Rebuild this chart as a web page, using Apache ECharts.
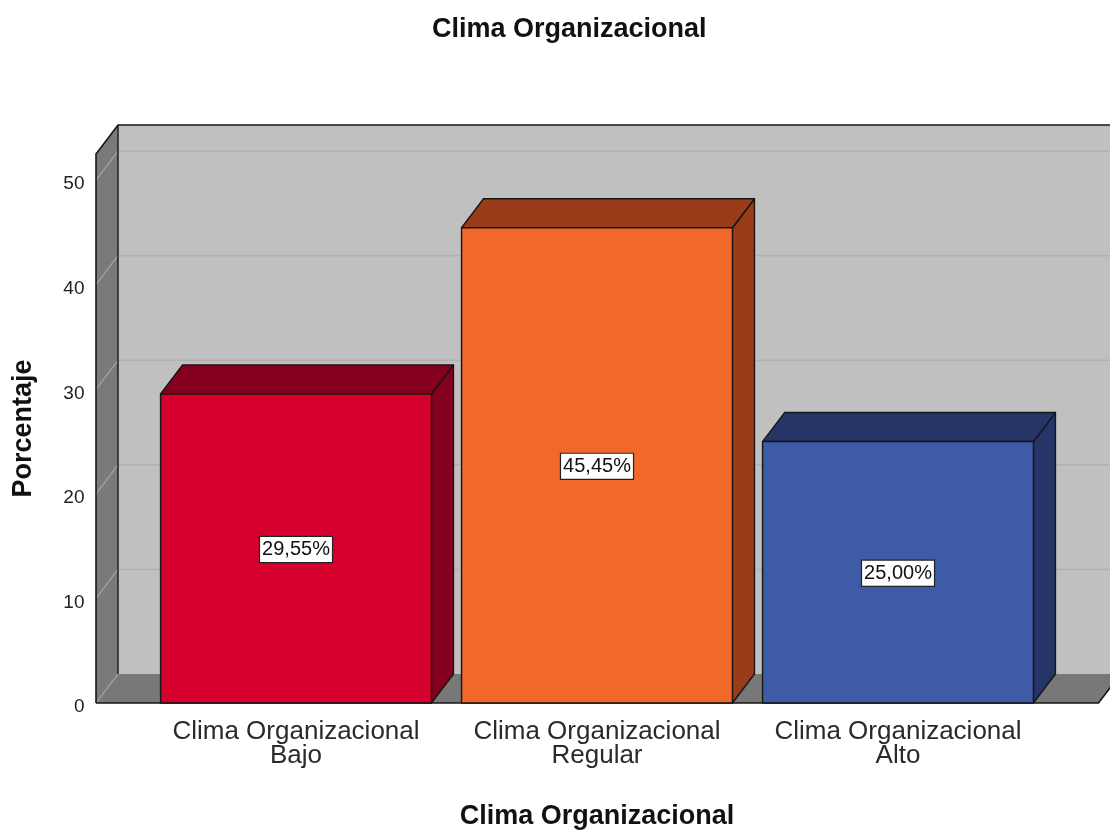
<!DOCTYPE html>
<html>
<head>
<meta charset="utf-8">
<script src="https://cdn.jsdelivr.net/npm/echarts@6/dist/echarts.min.js"></script>
<style>
  html, body { margin: 0; padding: 0; background: #fff; }
  #chart { width: 1110px; height: 830px; }
</style>
</head>
<body>
<div id="chart"></div>
<script>
// Chart data
const categories = ['Clima Organizacional\nBajo', 'Clima Organizacional\nRegular', 'Clima Organizacional\nAlto'];
const percentages = [29.55, 45.45, 25.00];
const yTicks = [0, 10, 20, 30, 40, 50];
const frontColors = ['#d6002f', '#f2682b', '#3e5ba8'];
const shadeColors = ['#85001f', '#9a3c1a', '#263568'];

// 3D depth offset (pixels) and wall margins outside the category band
const DX = 22, DY = 29;
const WALL_LEFT = 49.5, WALL_RIGHT = 50;
const FONT = "'Liberation Sans', Arial, sans-serif";
const EDGE = '#161616';

const chart = echarts.init(document.getElementById('chart'), null, { renderer: 'canvas' });

function fmt(v) {
  return v.toFixed(2).replace('.', ',') + '%';
}

// Walls, floor and grid lines of the 3D frame
function renderFrame(params, api) {
  const cs = params.coordSys;
  const x0 = cs.x - WALL_LEFT;
  const x1 = cs.x + cs.width + WALL_RIGHT;
  const yT = cs.y;
  const yB = cs.y + cs.height;
  const children = [];
  const line = (pts, stroke, w) => ({
    type: 'polyline', shape: { points: pts },
    style: { stroke: stroke, lineWidth: w, fill: null }
  });
  // back wall
  children.push({ type: 'polygon', shape: { points: [[x0 + DX, yT - DY], [x1 + DX, yT - DY], [x1 + DX, yB - DY], [x0 + DX, yB - DY]] }, style: { fill: '#c0c0c0' } });
  // left wall
  children.push({ type: 'polygon', shape: { points: [[x0, yT], [x0 + DX, yT - DY], [x0 + DX, yB - DY], [x0, yB]] }, style: { fill: '#7a7a7a' } });
  // floor
  children.push({ type: 'polygon', shape: { points: [[x0, yB], [x0 + DX, yB - DY], [x1 + DX, yB - DY], [x1, yB]] }, style: { fill: '#787878' } });
  // grid lines
  yTicks.forEach(function (t) {
    const y = api.coord([0, t])[1];
    children.push(line([[x0, y], [x0 + DX, y - DY]], '#a4a4a4', 1.2));
    if (t > 0) children.push(line([[x0 + DX, y - DY], [x1 + DX, y - DY]], '#b1b1b1', 1.5));
  });
  // frame edges
  children.push(line([[x0, yB], [x0, yT], [x0 + DX, yT - DY], [x1 + DX + 40, yT - DY]], EDGE, 1.6));
  children.push(line([[x0 + DX, yT - DY], [x0 + DX, yB - DY]], EDGE, 1.4));
  children.push(line([[x0, yB], [x1, yB], [x1 + DX, yB - DY]], EDGE, 1.6));
  return { type: 'group', children: children };
}

// 3D bar: front face, right side, top, and a boxed value label
function renderBar(params, api) {
  const idx = api.value(0);
  const val = api.value(1);
  const top = api.coord([idx, val]);
  const base = api.coord([idx, 0]);
  const mid = api.coord([idx, val / 2]);
  const w = api.size([1, 0])[0] * 0.9;
  const xl = top[0] - w / 2;
  const xr = top[0] + w / 2;
  const yt = top[1];
  const yb = base[1];
  const i = params.dataIndex;
  const edge = { stroke: EDGE, lineWidth: 1.4, lineJoin: 'round' };
  return {
    type: 'group',
    children: [
      { type: 'polygon', shape: { points: [[xr, yt], [xr + DX, yt - DY], [xr + DX, yb - DY], [xr, yb]] },
        style: Object.assign({ fill: shadeColors[i] }, edge) },
      { type: 'polygon', shape: { points: [[xl, yt], [xl + DX, yt - DY], [xr + DX, yt - DY], [xr, yt]] },
        style: Object.assign({ fill: shadeColors[i] }, edge) },
      { type: 'rect', shape: { x: xl, y: yt, width: w, height: yb - yt },
        style: Object.assign({ fill: frontColors[i] }, edge) },
      { type: 'text', x: top[0], y: mid[1] + 1,
        style: {
          text: fmt(val), fill: '#111', font: '20px ' + FONT,
          align: 'center', verticalAlign: 'middle',
          backgroundColor: '#ffffff', borderColor: '#222', borderWidth: 1.2,
          padding: [3, 2, 2, 2]
        } }
    ]
  };
}

chart.setOption({
  animation: false,
  backgroundColor: '#ffffff',
  title: {
    text: 'Clima Organizacional',
    left: 427, top: 11,
    textStyle: { fontFamily: FONT, fontWeight: 'bold', fontSize: 27, color: '#111' }
  },
  grid: { left: 145.5, top: 154, width: 903, height: 549, containLabel: false, outerBoundsMode: 'none' },
  xAxis: {
    type: 'category',
    data: categories,
    axisLine: { show: false },
    axisTick: { show: false },
    axisLabel: { interval: 0, fontFamily: FONT, fontSize: 26, lineHeight: 24, color: '#2a2a2a', margin: 17 },
    name: 'Clima Organizacional',
    nameLocation: 'middle',
    nameGap: 100,
    nameTextStyle: { fontFamily: FONT, fontWeight: 'bold', fontSize: 27, color: '#111' }
  },
  yAxis: {
    type: 'value',
    min: 0, max: 52.5, interval: 10,
    axisLine: { show: false },
    axisTick: { show: false },
    splitLine: { show: false },
    axisLabel: { fontFamily: FONT, fontSize: 19, color: '#222', margin: 61, showMaxLabel: false, verticalAlign: 'top', lineHeight: 8 },
    name: 'Porcentaje',
    nameLocation: 'middle',
    nameGap: 108,
    nameTextStyle: { fontFamily: FONT, fontWeight: 'bold', fontSize: 27, color: '#111' }
  },
  series: [
    { type: 'custom', z: 1, silent: true, renderItem: renderFrame, data: [[0, 0]] },
    { type: 'custom', z: 2, renderItem: renderBar,
      encode: { x: 0, y: 1 },
      data: percentages.map(function (v, i) { return [i, v]; }) }
  ]
});
</script>
</body>
</html>
